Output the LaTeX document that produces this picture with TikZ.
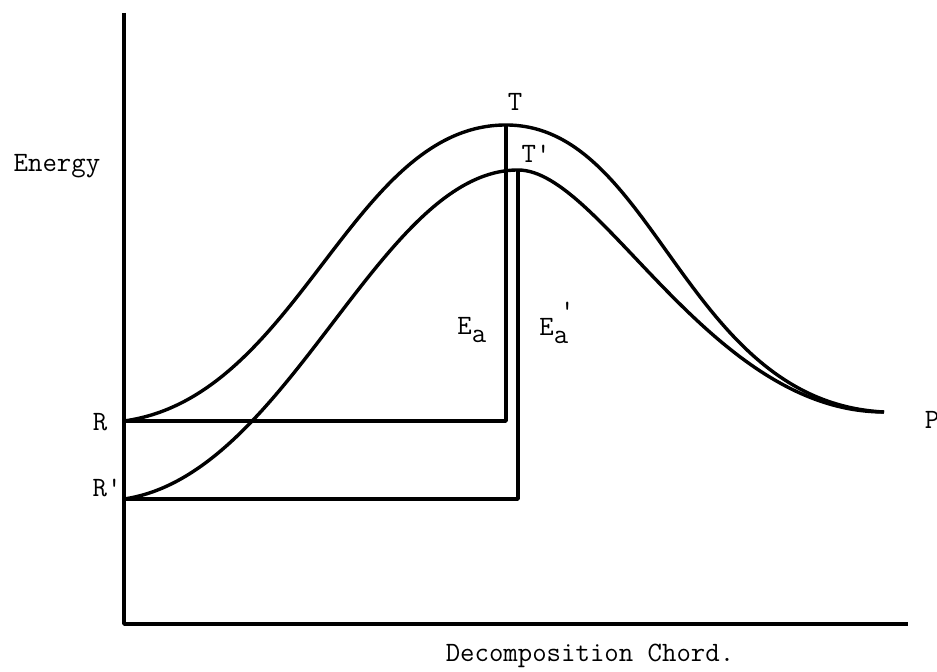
\documentclass[tikz,border=0pt]{standalone}
\usepackage{tikz}

\begin{document}
\begin{tikzpicture}[x=0.5pt, y=-0.5pt,
                curve/.style={line width=1.7pt, line join=round},
                lbl/.style={font=\fontsize{14}{16}\ttfamily\selectfont, inner sep=0pt}]
                \useasboundingbox (0,0) rectangle (937,672);
                % axes
                \coordinate (top) at (124,13);
                \coordinate (origin) at (124,624);
                \coordinate (xend) at (908,624);
                % levels
                \coordinate (R) at (124,421);
                \coordinate (Rp) at (124,499);
                \coordinate (T) at (506,125);
                \coordinate (Tp) at (518,170);
                \coordinate (Rbar) at (506,421);
                \coordinate (Rpbar) at (518,499);
                \coordinate (P) at (884,412);
                \draw[curve] (top) -- (origin) -- (xend);
                \draw[curve] (R) -- (Rbar) -- (T);
                \draw[curve] (Rp) -- (Rpbar) -- (Tp);
                \draw[curve] (R) .. controls (299,397) and (351,125) .. (T)
                        .. controls (656,125) and (684,402) .. (P);
                \draw[curve] (Rp) .. controls (289,475) and (379,170) .. (Tp)
                        .. controls (601,170) and (710,412) .. (P);
                % labels
                \node[lbl, anchor=base] (energy) at (57,172) {Energy};
                \node[lbl, anchor=base] (chord) at (590,662) {Decomposition Chord.};
                \node[lbl] (lR) at (100,422) {R};
                \node[lbl] (lRp) at (107,488) {R'};
                \node[lbl] (lP) at (932,420) {P};
                \node[lbl] (lT) at (515,102) {T};
                \node[lbl] (lTp) at (536,154) {T'};
                \node[lbl, anchor=base west] (lEa) at (457,335) {E\raisebox{-4pt}{a}};
                \node[lbl, anchor=base west] (lEap) at (539,336) {E\raisebox{-4pt}{a}\kern-4pt\raisebox{8pt}{'}};
            \end{tikzpicture}
\end{document}
